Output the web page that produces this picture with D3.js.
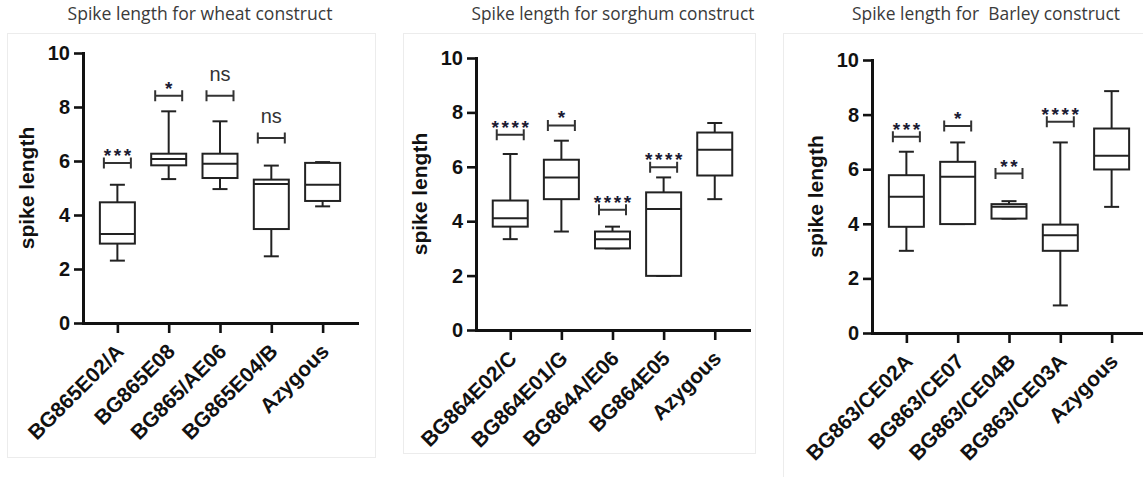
<!DOCTYPE html>
<html>
<head>
<meta charset="utf-8">
<script src="https://cdn.jsdelivr.net/npm/d3@7/dist/d3.min.js"></script>
<style>
  html, body { margin: 0; padding: 0; background: #fff; }
  svg { display: block; }
</style>
</head>
<body>
<svg id="chart" width="1143" height="477"></svg>
<script>
// ---- Wheat construct ----
const wheatCategories = ["BG865E02/A", "BG865E08", "BG865/AE06", "BG865E04/B", "Azygous"];
const wheatMin    = [2.31, 5.33, 4.96, 2.47, 4.32];
const wheatQ1     = [2.94, 5.84, 5.37, 3.48, 4.52];
const wheatMedian = [3.30, 6.07, 5.90, 5.15, 5.12];
const wheatQ3     = [4.47, 6.27, 6.27, 5.31, 5.93];
const wheatMax    = [5.12, 7.84, 7.47, 5.83, 5.96];
const wheatSig    = ["***", "*", "ns", "ns", ""];
const wheatSigY   = [5.93, 8.42, 8.42, 6.85, null];

// ---- Sorghum construct ----
const sorghumCategories = ["BG864E02/C", "BG864E01/G", "BG864A/E06", "BG864E05", "Azygous"];
const sorghumMin    = [3.34, 3.62, 3.00, 1.99, 4.81];
const sorghumQ1     = [3.80, 4.81, 3.00, 1.99, 5.68];
const sorghumMedian = [4.11, 5.61, 3.34, 4.45, 6.63];
const sorghumQ3     = [4.76, 6.26, 3.62, 5.06, 7.26];
const sorghumMax    = [6.47, 6.96, 3.80, 5.61, 7.61];
const sorghumSig    = ["****", "*", "****", "****", ""];
const sorghumSigY   = [7.18, 7.52, 4.42, 5.98, null];

// ---- Barley construct ----
const barleyCategories = ["BG863/CE02A", "BG863/CE07", "BG863/CE04B", "BG863/CE03A", "Azygous"];
const barleyMin    = [3.01, 3.99, 4.19, 1.01, 4.62];
const barleyQ1     = [3.89, 3.99, 4.19, 3.01, 5.99];
const barleyMedian = [4.99, 5.72, 4.62, 3.58, 6.49];
const barleyQ3     = [5.78, 6.27, 4.72, 3.97, 7.49];
const barleyMax    = [6.64, 6.98, 4.83, 6.98, 8.86];
const barleySig    = ["***", "*", "**", "****", ""];
const barleySigY   = [7.19, 7.58, 5.84, 7.74, null];

const yTicks = [0, 2, 4, 6, 8, 10];
const yLabel = "spike length";

const svg = d3.select("#chart");

function drawPanel(p) {
  const g = svg.append("g");

  // light frame around the panel
  g.append("rect")
    .attr("x", p.frame[0] + 0.5).attr("y", p.frame[1] + 0.5)
    .attr("width", p.frame[2]).attr("height", p.frame[3])
    .attr("fill", "#fff").attr("stroke", "#ececec").attr("stroke-width", 1);

  // title, sized to its target width
  const title = svg.append("text")
    .attr("x", p.titleX).attr("y", 20)
    .attr("text-anchor", "middle")
    .attr("font-family", "'Open Sans', 'Noto Sans', sans-serif")
    .attr("font-size", 15)
    .attr("fill", "#3a3a3a")
    .style("white-space", "pre")
    .text(p.title);
  const w = title.node().getComputedTextLength();
  title.attr("font-size", (15 * p.titleW / w).toFixed(2));

  const y = d3.scaleLinear().domain([0, 10]).range([p.y0, p.y10]);
  const x = d3.scalePoint().domain(p.categories).range([p.axisX, p.axisEnd]).padding(0.67);

  // y axis
  const yAxis = g.append("g")
    .attr("transform", `translate(${p.axisX},0)`)
    .call(d3.axisLeft(y).tickValues(yTicks).tickSize(9).tickSizeOuter(0).tickPadding(4).tickFormat(d3.format("d")));
  // x axis
  const xAxis = g.append("g")
    .attr("transform", `translate(0,${p.y0})`)
    .call(d3.axisBottom(x).tickSize(10).tickSizeOuter(0).tickFormat(""));

  [yAxis, xAxis].forEach(a => {
    a.selectAll("path.domain").attr("stroke", "#111").attr("stroke-width", 3).attr("stroke-linecap", "square");
    a.selectAll(".tick line").attr("stroke", "#111").attr("stroke-width", 2.6);
  });
  yAxis.selectAll(".tick text")
    .attr("font-family", "'Liberation Sans', Arial, sans-serif")
    .attr("font-weight", "bold").attr("font-size", 20).attr("fill", "#111");

  // category labels, rotated
  g.selectAll("text.cat").data(p.categories).join("text")
    .attr("class", "cat")
    .attr("transform", d => `translate(${x(d) - 3},${p.y0 + 19}) rotate(-45)`)
    .attr("dy", "0.72em")
    .attr("text-anchor", "end")
    .attr("font-family", "'Liberation Sans', Arial, sans-serif")
    .attr("font-weight", "bold").attr("font-size", 21).attr("fill", "#111")
    .text(d => d);

  // y axis title
  g.append("text")
    .attr("transform", `translate(${p.axisX - 49},${(p.y0 + p.y10) / 2}) rotate(-90)`)
    .attr("text-anchor", "middle")
    .attr("font-family", "'Liberation Sans', Arial, sans-serif")
    .attr("font-weight", "bold").attr("font-size", 21).attr("fill", "#111")
    .text(yLabel);

  // box plots
  const boxW = 35, capW = 15;
  const rows = p.categories.map((c, i) => ({
    c, min: p.min[i], q1: p.q1[i], med: p.median[i], q3: p.q3[i], max: p.max[i],
    sig: p.sig[i], sigY: p.sigY[i]
  }));
  const box = g.selectAll("g.box").data(rows).join("g").attr("class", "box")
    .attr("fill", "none").attr("stroke", "#222").attr("stroke-width", 2);

  box.append("line") // upper whisker
    .attr("x1", d => x(d.c)).attr("x2", d => x(d.c))
    .attr("y1", d => y(d.q3)).attr("y2", d => y(d.max));
  box.append("line") // lower whisker
    .attr("x1", d => x(d.c)).attr("x2", d => x(d.c))
    .attr("y1", d => y(d.q1)).attr("y2", d => y(d.min));
  box.append("line")
    .attr("x1", d => x(d.c) - capW / 2).attr("x2", d => x(d.c) + capW / 2)
    .attr("y1", d => y(d.max)).attr("y2", d => y(d.max));
  box.append("line")
    .attr("x1", d => x(d.c) - capW / 2).attr("x2", d => x(d.c) + capW / 2)
    .attr("y1", d => y(d.min)).attr("y2", d => y(d.min));
  box.append("rect")
    .attr("x", d => x(d.c) - boxW / 2).attr("width", boxW)
    .attr("y", d => y(d.q3)).attr("height", d => y(d.q1) - y(d.q3))
    .attr("fill", "#fff");
  box.append("line")
    .attr("x1", d => x(d.c) - boxW / 2).attr("x2", d => x(d.c) + boxW / 2)
    .attr("y1", d => y(d.med)).attr("y2", d => y(d.med));

  // significance brackets and labels
  const sig = g.selectAll("g.sig").data(rows.filter(d => d.sig)).join("g").attr("class", "sig");
  const bw = 27, bh = 11;
  sig.append("path")
    .attr("d", d => {
      const cx = x(d.c), yy = y(d.sigY);
      return `M${cx - bw / 2},${yy - bh / 2}V${yy + bh / 2}M${cx - bw / 2},${yy}H${cx + bw / 2}M${cx + bw / 2},${yy - bh / 2}V${yy + bh / 2}`;
    })
    .attr("fill", "none").attr("stroke", "#333").attr("stroke-width", 2);
  sig.append("text")
    .attr("x", d => x(d.c) + (d.sig === "ns" ? 0 : 1.3))
    .attr("y", d => y(d.sigY) - (d.sig === "ns" ? 15 : 1))
    .attr("text-anchor", "middle")
    .attr("font-family", "'Liberation Sans', Arial, sans-serif")
    .attr("font-weight", d => d.sig === "ns" ? "normal" : "bold")
    .attr("font-size", d => d.sig === "ns" ? 20 : 19)
    .attr("letter-spacing", d => d.sig === "ns" ? 0 : 2.6)
    .attr("fill", d => d.sig === "ns" ? "#333" : "#1b1b33")
    .text(d => d.sig);
}

drawPanel({
  title: "Spike length for wheat construct", titleX: 200, titleW: 265,
  frame: [7, 33, 368, 424],
  axisX: 83, axisEnd: 357, y0: 323, y10: 53,
  categories: wheatCategories, min: wheatMin, q1: wheatQ1, median: wheatMedian,
  q3: wheatQ3, max: wheatMax, sig: wheatSig, sigY: wheatSigY
});
drawPanel({
  title: "Spike length for sorghum construct", titleX: 613, titleW: 283,
  frame: [403, 33, 352, 420],
  axisX: 476, axisEnd: 749, y0: 330, y10: 58,
  categories: sorghumCategories, min: sorghumMin, q1: sorghumQ1, median: sorghumMedian,
  q3: sorghumQ3, max: sorghumMax, sig: sorghumSig, sigY: sorghumSigY
});
drawPanel({
  title: "Spike length for  Barley construct", titleX: 986, titleW: 268,
  frame: [783, 33, 380, 460],
  axisX: 872, axisEnd: 1146, y0: 333, y10: 60,
  categories: barleyCategories, min: barleyMin, q1: barleyQ1, median: barleyMedian,
  q3: barleyQ3, max: barleyMax, sig: barleySig, sigY: barleySigY
});
</script>
</body>
</html>
